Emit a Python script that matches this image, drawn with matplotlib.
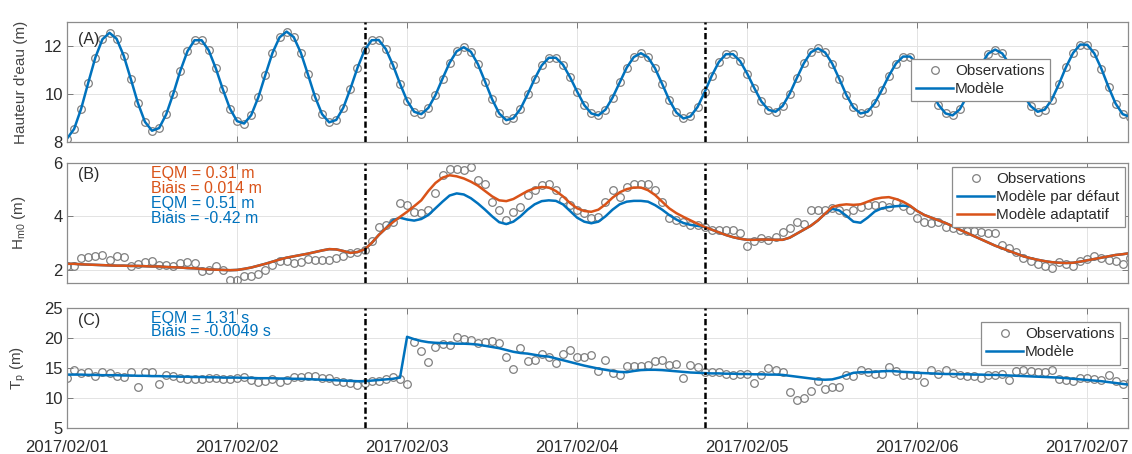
import numpy as np
import matplotlib
matplotlib.use("Agg")
import matplotlib.pyplot as plt
import matplotlib.dates as mdates

plt.rcParams['font.family'] = ['Liberation Sans', 'DejaVu Sans']
plt.rcParams['mathtext.fontset'] = 'custom'
plt.rcParams['mathtext.rm'] = 'Liberation Sans'
plt.rcParams['mathtext.it'] = 'Liberation Sans:italic'

# hourly samples from 2017/02/01 00:00
start = np.datetime64('2017-02-01T00:00')
hours = np.arange(151)
split_times = [np.datetime64('2017-02-02T18:00'), np.datetime64('2017-02-04T18:00')]

# (A) water level (m)
level_obs = [8.14, 8.54, 9.39, 10.47, 11.52, 12.28, 12.55, 12.30, 11.60, 10.63,
             9.63, 8.84, 8.47, 8.58, 9.15, 10.01, 10.97, 11.78, 12.24, 12.24,
             11.82, 11.07, 10.19, 9.39, 8.87, 8.77, 9.12, 9.86, 10.80, 11.71,
             12.36, 12.60, 12.37, 11.72, 10.82, 9.89, 9.16, 8.82, 8.92, 9.43,
             10.22, 11.09, 11.83, 12.24, 12.25, 11.87, 11.21, 10.43, 9.72, 9.26,
             9.16, 9.42, 9.95, 10.64, 11.30, 11.78, 11.95, 11.76, 11.24, 10.52,
             9.78, 9.19, 8.91, 8.99, 9.38, 9.98, 10.63, 11.19, 11.51, 11.51,
             11.22, 10.70, 10.10, 9.54, 9.19, 9.11, 9.35, 9.85, 10.48, 11.10,
             11.54, 11.70, 11.53, 11.07, 10.42, 9.75, 9.23, 8.98, 9.07, 9.46,
             10.08, 10.76, 11.33, 11.66, 11.66, 11.37, 10.85, 10.25, 9.69, 9.34,
             9.26, 9.50, 10.01, 10.66, 11.28, 11.74, 11.90, 11.73, 11.27, 10.63,
             9.96, 9.44, 9.19, 9.26, 9.62, 10.16, 10.76, 11.27, 11.56, 11.56,
             11.26, 10.74, 10.12, 9.55, 9.19, 9.11, 9.36, 9.89, 10.56, 11.21,
             11.68, 11.85, 11.69, 11.25, 10.63, 9.96, 9.50, 9.26, 9.35, 9.77,
             10.41, 11.12, 11.71, 12.06, 12.05, 11.69, 11.05, 10.29, 9.60, 9.16,
             9.05]
level_model = level_obs

# (B) Hm0 (m)
hs_obs = [2.15, 2.15, 2.43, 2.47, 2.50, 2.56, 2.37, 2.52, 2.47, 2.12,
          2.22, 2.27, 2.31, 2.19, 2.19, 2.12, 2.25, 2.27, 2.25, 1.94,
          1.98, 2.15, 2.00, 1.63, 1.60, 1.75, 1.78, 1.85, 2.00, 2.19,
          2.31, 2.31, 2.25, 2.27, 2.40, 2.35, 2.35, 2.35, 2.43, 2.52,
          2.62, 2.68, 2.75, 3.06, 3.61, 3.68, 3.80, 4.51, 4.42, 4.17,
          4.14, 4.24, 4.86, 5.54, 5.79, 5.79, 5.75, 5.85, 5.35, 5.23,
          4.55, 4.24, 3.86, 4.17, 4.36, 4.80, 4.98, 5.17, 5.23, 5.00,
          4.60, 4.42, 4.24, 4.11, 3.93, 3.99, 4.55, 4.98, 4.73, 5.10,
          5.20, 5.20, 5.20, 5.00, 4.55, 3.93, 3.86, 3.80, 3.68, 3.68,
          3.59, 3.47, 3.49, 3.49, 3.47, 3.39, 2.89, 3.06, 3.18, 3.12,
          3.24, 3.43, 3.55, 3.80, 3.71, 4.24, 4.24, 4.24, 4.30, 4.24,
          4.14, 4.24, 4.36, 4.42, 4.42, 4.42, 4.36, 4.55, 4.39, 4.24,
          3.93, 3.80, 3.74, 3.80, 3.61, 3.55, 3.50, 3.45, 3.45, 3.43,
          3.37, 3.37, 2.93, 2.81, 2.68, 2.43, 2.31, 2.22, 2.12, 2.06,
          2.27, 2.22, 2.15, 2.31, 2.40, 2.50, 2.43, 2.37, 2.31, 2.22,
          2.43]
hs_default = [2.22, 2.22, 2.20, 2.19, 2.18, 2.17, 2.16, 2.15, 2.15, 2.14,
              2.14, 2.13, 2.12, 2.12, 2.10, 2.09, 2.08, 2.06, 2.05, 2.03,
              2.01, 2.00, 1.99, 1.98, 1.99, 2.03, 2.08, 2.15, 2.22, 2.30,
              2.38, 2.45, 2.50, 2.55, 2.60, 2.66, 2.72, 2.77, 2.76, 2.70,
              2.63, 2.66, 2.76, 3.00, 3.30, 3.55, 3.85, 3.95, 3.88, 3.84,
              3.90, 4.05, 4.30, 4.55, 4.78, 4.86, 4.82, 4.68, 4.48, 4.25,
              4.00, 3.78, 3.71, 3.80, 4.00, 4.25, 4.45, 4.57, 4.60, 4.58,
              4.45, 4.20, 3.95, 3.80, 3.74, 3.80, 4.00, 4.25, 4.45, 4.55,
              4.58, 4.58, 4.55, 4.42, 4.25, 4.05, 3.88, 3.75, 3.68, 3.64,
              3.60, 3.50, 3.40, 3.30, 3.22, 3.16, 3.12, 3.12, 3.13, 3.13,
              3.12, 3.12, 3.20, 3.35, 3.50, 3.65, 3.85, 4.10, 4.28, 4.22,
              4.02, 3.80, 3.76, 3.95, 4.18, 4.30, 4.35, 4.38, 4.40, 4.38,
              4.20, 4.05, 3.95, 3.85, 3.75, 3.63, 3.50, 3.38, 3.26, 3.14,
              3.02, 2.90, 2.80, 2.70, 2.60, 2.50, 2.43, 2.37, 2.32, 2.28,
              2.26, 2.25, 2.26, 2.30, 2.35, 2.40, 2.45, 2.50, 2.55, 2.58,
              2.62]
hs_adaptive = [2.22, 2.22, 2.20, 2.19, 2.18, 2.17, 2.16, 2.15, 2.15, 2.14,
               2.14, 2.13, 2.12, 2.12, 2.10, 2.09, 2.08, 2.06, 2.05, 2.03,
               2.01, 2.00, 1.99, 1.98, 1.99, 2.03, 2.08, 2.15, 2.22, 2.30,
               2.38, 2.45, 2.50, 2.55, 2.60, 2.66, 2.72, 2.77, 2.76, 2.70,
               2.63, 2.66, 2.76, 3.00, 3.30, 3.55, 3.78, 3.98, 4.17, 4.38,
               4.60, 4.95, 5.25, 5.45, 5.54, 5.50, 5.42, 5.30, 5.15, 4.95,
               4.75, 4.60, 4.57, 4.65, 4.80, 4.95, 5.05, 5.10, 5.08, 4.95,
               4.75, 4.50, 4.30, 4.20, 4.17, 4.25, 4.45, 4.70, 4.90, 5.02,
               5.08, 5.08, 4.98, 4.80, 4.55, 4.30, 4.12, 3.98, 3.85, 3.72,
               3.60, 3.50, 3.40, 3.30, 3.22, 3.16, 3.12, 3.12, 3.13, 3.13,
               3.12, 3.12, 3.20, 3.35, 3.50, 3.65, 3.85, 4.10, 4.35, 4.42,
               4.45, 4.43, 4.45, 4.55, 4.65, 4.70, 4.72, 4.65, 4.55, 4.40,
               4.20, 4.05, 3.95, 3.85, 3.75, 3.63, 3.50, 3.38, 3.26, 3.14,
               3.02, 2.90, 2.80, 2.70, 2.60, 2.50, 2.43, 2.37, 2.32, 2.28,
               2.26, 2.25, 2.26, 2.30, 2.35, 2.40, 2.45, 2.50, 2.55, 2.58,
               2.62]

# (C) Tp
tp_obs = [13.3, 14.6, 14.2, 14.4, 13.6, 14.3, 14.2, 13.6, 13.5, 14.4,
          11.9, 14.3, 14.3, 12.4, 13.9, 13.6, 13.3, 13.2, 13.1, 13.2,
          13.3, 13.3, 13.2, 13.2, 13.3, 13.5, 13.0, 12.7, 12.8, 13.1,
          12.7, 13.0, 13.5, 13.5, 13.6, 13.7, 13.3, 13.4, 12.8, 12.6,
          12.5, 12.2, 12.5, 12.8, 12.9, 13.1, 13.5, 13.1, 12.4, 19.4,
          17.8, 16.0, 18.5, 19.0, 18.9, 20.1, 19.8, 19.6, 19.1, 19.3,
          19.5, 19.2, 16.8, 14.9, 18.3, 16.2, 16.3, 17.4, 16.9, 15.8,
          17.4, 18.0, 16.9, 16.9, 17.1, 14.5, 16.4, 14.2, 13.8, 15.3,
          15.3, 15.4, 15.5, 16.2, 16.4, 15.5, 15.7, 13.3, 15.5, 15.1,
          14.3, 14.3, 14.3, 14.0, 13.9, 14.0, 14.0, 12.5, 13.9, 15.0,
          14.7, 14.4, 11.0, 9.7, 10.0, 11.1, 12.8, 11.5, 11.9, 11.9,
          13.9, 13.6, 14.7, 14.3, 14.0, 14.0, 15.1, 14.5, 13.9, 13.8,
          13.9, 12.6, 14.7, 14.0, 14.7, 14.2, 13.8, 13.6, 13.6, 13.4,
          13.8, 13.9, 14.0, 13.0, 14.5, 14.7, 14.5, 14.3, 14.3, 14.7,
          13.2, 13.0, 12.9, 13.3, 13.3, 13.2, 13.0, 13.8, 12.8, 12.3,
          12.6]
tp_model = [13.9, 13.9, 13.9, 13.85, 13.85, 13.8, 13.8, 13.8, 13.75, 13.75,
            13.7, 13.7, 13.65, 13.65, 13.6, 13.6, 13.55, 13.55, 13.5, 13.5,
            13.45, 13.45, 13.4, 13.4, 13.4, 13.35, 13.35, 13.3, 13.3, 13.3,
            13.25, 13.25, 13.2, 13.2, 13.15, 13.1, 13.05, 13.0, 12.95, 12.9,
            12.85, 12.8, 12.8, 12.9, 13.0, 13.1, 13.2, 13.4, 20.2, 19.8,
            19.5, 19.3, 19.2, 19.15, 19.1, 19.05, 19.05, 19.0, 18.9, 18.7,
            18.5, 18.3, 18.0, 17.7, 17.5, 17.4, 17.2, 17.0, 16.9, 16.6,
            16.3, 16.0, 15.7, 15.4, 15.15, 14.9, 14.7, 14.5, 14.35, 14.3,
            14.5, 14.65, 14.7, 14.7, 14.65, 14.55, 14.45, 14.35, 14.25, 14.2,
            14.15, 14.1, 14.1, 14.05, 14.05, 14.0, 14.0, 13.95, 13.95, 13.9,
            13.9, 13.85, 13.7, 13.55, 13.4, 13.25, 13.1, 13.05, 13.1, 13.4,
            13.8, 14.2, 14.3, 14.3, 14.35, 14.45, 14.5, 14.45, 14.35, 14.3,
            14.2, 14.15, 14.1, 14.05, 14.0, 14.0, 13.95, 13.95, 13.9, 13.9,
            13.85, 13.85, 13.8, 13.75, 13.7, 13.65, 13.6, 13.55, 13.5, 13.45,
            13.4, 13.3, 13.2, 13.1, 13.0, 12.9, 12.8, 12.65, 12.5, 12.35,
            12.2]

times = start + hours.astype('timedelta64[h]')

blue = '#0072BD'
orange = '#D95319'
obs_kw = dict(ls='none', marker='o', ms=5.5, mfc='none', mec='#808080', mew=0.9)
txt = '#2b2b2b'

fig = plt.figure(figsize=(11.32, 4.54), dpi=100)
W, H = 1132.0, 454.0
left, right = 67, 1128
boxes = [(22, 142), (163, 283), (308, 428)]
axes = [fig.add_axes([left / W, 1 - b / H, (right - left) / W, (b - t) / H]) for t, b in boxes]
axA, axB, axC = axes

axA.plot(times, level_obs, label='Observations', **obs_kw)
axA.plot(times, level_model, color=blue, lw=1.8, label='Modèle')
axA.set_ylim(8, 13)
axA.set_yticks([8, 10, 12])
axA.set_ylabel("Hauteur d'eau (m)")

axB.plot(times, hs_obs, label='Observations', **obs_kw)
axB.plot(times, hs_default, color=blue, lw=1.8, label='Modèle par défaut')
axB.plot(times, hs_adaptive, color=orange, lw=1.8, label='Modèle adaptatif')
axB.set_ylim(1.5, 6)
axB.set_yticks([2, 4, 6])
axB.set_ylabel(r'H$_{\mathrm{m0}}$ (m)')

axC.plot(times, tp_obs, label='Observations', **obs_kw)
axC.plot(times, tp_model, color=blue, lw=1.8, label='Modèle')
axC.set_ylim(5, 25)
axC.set_yticks([5, 10, 15, 20, 25])
axC.set_ylabel(r'T$_{\mathrm{p}}$ (m)')

for ax, tag in zip(axes, ['(A)', '(B)', '(C)']):
    ax.set_xlim(start, np.datetime64('2017-02-07T05:45'))
    ax.xaxis.set_major_locator(mdates.DayLocator())
    ax.xaxis.set_major_formatter(mdates.DateFormatter('%Y/%m/%d'))
    ax.grid(True, color='#e3e3e3', lw=0.7)
    ax.set_axisbelow(True)
    ax.tick_params(direction='in', top=True, right=True, length=4, width=0.7,
                   colors='#7a7a7a', labelcolor=txt, labelsize=12, pad=3)
    ax.tick_params(axis='x', pad=9)
    for s in ax.spines.values():
        s.set_color('#8c8c8c')
        s.set_linewidth(0.9)
    for st in split_times:
        ax.axvline(st, color='black', ls=(0, (2.5, 1.2, 1, 1.2)), lw=1.8, zorder=5)
    ax.yaxis.set_label_coords(-0.037, 0.5)
    ax.yaxis.label.set_color('#444444')
    ax.yaxis.label.set_fontsize(11)
    ax.text(0.01, 0.85 if tag == '(A)' else 0.9, tag, transform=ax.transAxes,
            fontsize=11.5, color=txt, va='center', ha='left', zorder=6)

axA.tick_params(labelbottom=False)
axB.tick_params(labelbottom=False)

for y, s, c in [(0.915, 'EQM = 0.31 m', orange), (0.79, 'Biais = 0.014 m', orange),
                (0.665, 'EQM = 0.51 m', blue), (0.54, 'Biais = -0.42 m', blue)]:
    axB.text(0.079, y, s, color=c, fontsize=11.5, transform=axB.transAxes, va='center')
for y, s in [(0.915, 'EQM = 1.31 s'), (0.8, 'Biais = -0.0049 s')]:
    axC.text(0.079, y, s, color=blue, fontsize=11.5, transform=axC.transAxes, va='center')

leg_kw = dict(fontsize=11, frameon=True, fancybox=False, framealpha=1, edgecolor='#8c8c8c',
              handlelength=2.4, handletextpad=0.15, borderpad=0.35, labelspacing=0.25,
              borderaxespad=0)
lA = axA.legend(loc='upper right', bbox_to_anchor=(0.9265, 0.692), **leg_kw)
lB = axB.legend(loc='upper right', bbox_to_anchor=(0.997, 0.967), **leg_kw)
lC = axC.legend(loc='upper right', bbox_to_anchor=(0.9925, 0.883), **leg_kw)
for lg in (lA, lB, lC):
    lg.set_zorder(10)
    lg.get_frame().set_linewidth(0.9)
    for t in lg.get_texts():
        t.set_color(txt)

fig.savefig('out.png', dpi=100)
